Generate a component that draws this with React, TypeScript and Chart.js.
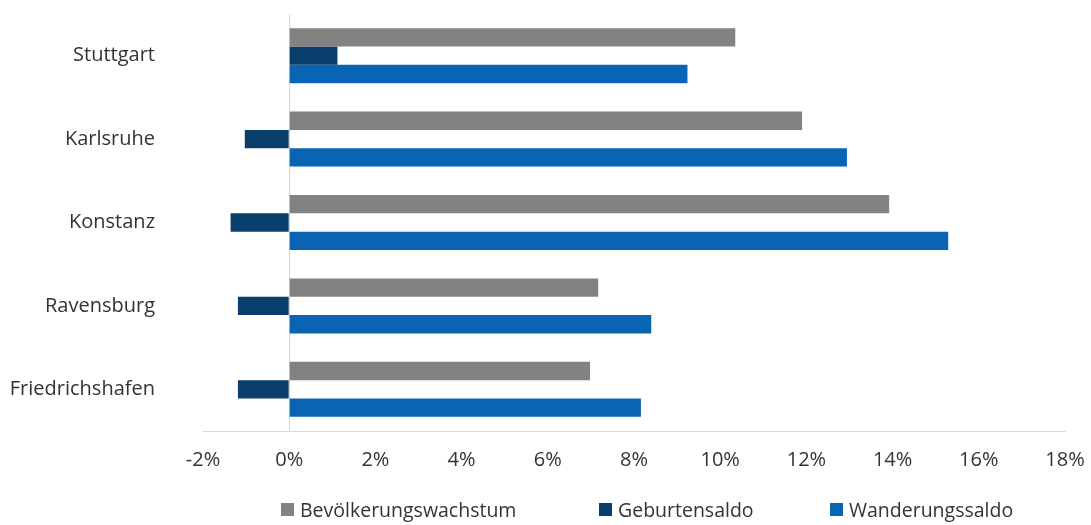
import React, { useEffect, useRef } from "react";
import { Chart, registerables } from "chart.js";

Chart.register(...registerables);

const cities = ["Stuttgart", "Karlsruhe", "Konstanz", "Ravensburg", "Friedrichshafen"];
const seriesNames = ["Bevölkerungswachstum", "Geburtensaldo", "Wanderungssaldo"];
const bevoelkerungswachstum = [10.35, 11.9, 13.92, 7.17, 6.98];
const geburtensaldo = [1.12, -1.03, -1.36, -1.19, -1.19];
const wanderungssaldo = [9.24, 12.94, 15.29, 8.4, 8.16];
const seriesColors = ["#828282", "#0a3e6d", "#0964b4"];
const xTicks = [-2, 0, 2, 4, 6, 8, 10, 12, 14, 16, 18];

const FONT = "'Open Sans', sans-serif";
const TEXT = "#333333";

export default function App() {
  const ref = useRef<HTMLCanvasElement | null>(null);

  useEffect(() => {
    if (!ref.current) return;
    const values = [bevoelkerungswachstum, geburtensaldo, wanderungssaldo];
    const chart = new Chart(ref.current, {
      type: "bar",
      data: {
        labels: cities,
        datasets: seriesNames.map((name, i) => ({
          label: name,
          data: values[i],
          backgroundColor: seriesColors[i],
          borderWidth: 0,
          categoryPercentage: 0.66,
          barPercentage: 1.0,
        })),
      },
      options: {
        indexAxis: "y",
        animation: false,
        responsive: false,
        maintainAspectRatio: false,
        layout: { padding: { left: 0, right: 26, top: 14, bottom: 49 } },
        plugins: { legend: { display: false }, tooltip: { enabled: false } },
        scales: {
          x: {
            min: xTicks[0],
            max: xTicks[xTicks.length - 1],
            afterBuildTicks: (s: any) => {
              s.ticks = xTicks.map((v) => ({ value: v }));
            },
            afterFit: (s: any) => {
              s.height = 45;
              s.paddingLeft = 0;
              s.paddingRight = 0;
            },
            ticks: {
              callback: (v: any) => v + "%",
              font: { family: FONT, size: 20 },
              color: TEXT,
              padding: 17,
              maxRotation: 0,
            },
            grid: {
              drawTicks: false,
              color: (ctx: any) => (ctx.tick && ctx.tick.value === 0 ? "#d4d4d4" : "rgba(0,0,0,0)"),
              lineWidth: 1,
            },
            border: { display: true, color: "#d9d9d9" },
          },
          y: {
            afterFit: (s: any) => {
              s.width = 203;
              s.paddingTop = 0;
              s.paddingBottom = 0;
            },
            ticks: {
              font: { family: FONT, size: 20 },
              color: TEXT,
              padding: 48,
            },
            grid: { display: false, drawTicks: false },
            border: { display: false },
          },
        },
      },
    });
    return () => chart.destroy();
  }, []);

  const legendLefts = [281, 599, 830];

  return (
    <div style={{ position: "fixed", left: 0, top: 0, width: 1091, height: 525, background: "#fff" }}>
      <canvas ref={ref} width={1091} height={525} style={{ display: "block" }} />
      {seriesNames.map((name, i) => (
        <div
          key={name}
          style={{
            position: "absolute",
            left: legendLefts[i],
            top: 496,
            height: 26,
            display: "flex",
            alignItems: "center",
            fontFamily: FONT,
            fontSize: 19.5,
            color: TEXT,
            whiteSpace: "nowrap",
          }}
        >
          <span
            style={{
              display: "inline-block",
              width: 13,
              height: 13,
              background: seriesColors[i],
              marginRight: 6,
            }}
          />
          <span>{name}</span>
        </div>
      ))}
    </div>
  );
}
